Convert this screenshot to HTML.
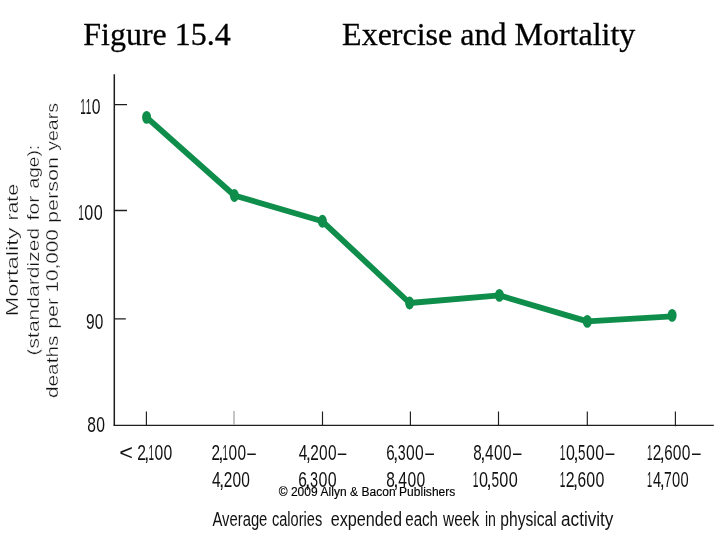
<!DOCTYPE html>
<html lang="en"><head><meta charset="utf-8"><title>Figure 15.4 Exercise and Mortality</title>
<style>
html,body{margin:0;padding:0;background:#fff;}
body{width:720px;height:540px;overflow:hidden;position:relative;}
svg{position:absolute;left:0;top:0;display:block;}
text{white-space:pre;}
.t{font-family:"Liberation Serif",serif;font-size:32px;fill:#000;stroke:#000;stroke-width:.3px;}
.a{font-family:"Liberation Sans",sans-serif;fill:#111;}
.r{stroke:#fff;stroke-width:.3px;paint-order:fill stroke;vector-effect:non-scaling-stroke;}
.c{font-family:"Liberation Sans",sans-serif;font-size:12px;fill:#000;stroke:#000;stroke-width:.15px;}
</style></head>
<body>
<svg width="720" height="540" viewBox="0 0 720 540">
<rect width="720" height="540" fill="#fff"/>

<text class="t" x="83.20" y="45.2">Figure 15.4</text>
<text class="t" x="342.10" y="45.2">Exercise and Mortality</text>

<!-- axes -->
<g stroke="#1e1e1e" stroke-width="1.5" fill="none">
<path d="M114.3 74.2V425.4"/>
<path d="M113.55 425.4H713.8" stroke-width="1.25"/>
<path d="M114.3 104.7H127M114.3 210.5H127M114.3 318.8H125.8" stroke-width="1.3"/>
<path d="M146.4 411.6V425.9M322.5 411.6V425.9M410.4 411.6V425.9M498.5 411.6V425.9M587.3 411.6V425.9M675.4 411.6V426.3" stroke-width="1.15"/>
</g>
<path d="M234 411V425" stroke="#adadad" stroke-width="1.4"/>

<!-- data -->
<polyline points="146.6,117.4 234.4,195.5 322.4,221.3 409.6,303.0 499.4,295.4 587.3,321.4 672.1,316.3" fill="none" stroke="#0f8d4b" stroke-width="5.8" stroke-linejoin="round" stroke-linecap="butt"/>
<g fill="#0f8d4b"><ellipse cx="146.6" cy="117.4" rx="4.5" ry="6.45"/><ellipse cx="234.4" cy="195.5" rx="4.5" ry="6.45"/><ellipse cx="322.4" cy="221.3" rx="4.5" ry="6.45"/><ellipse cx="409.6" cy="303.0" rx="4.5" ry="6.45"/><ellipse cx="499.4" cy="295.4" rx="4.5" ry="6.45"/><ellipse cx="587.3" cy="321.4" rx="4.5" ry="6.45"/><ellipse cx="672.1" cy="315.4" rx="4.5" ry="6.45"/></g>

<!-- chart labels -->
<text class="a" font-size="22.7" y="114.00"><tspan x="80.15" textLength="5.49" lengthAdjust="spacingAndGlyphs">1</tspan><tspan x="85.69" textLength="5.49" lengthAdjust="spacingAndGlyphs">1</tspan><tspan x="91.67" textLength="8.75" lengthAdjust="spacingAndGlyphs">0</tspan></text>
<text class="a" font-size="22.7" y="220.20"><tspan x="78.13" textLength="5.64" lengthAdjust="spacingAndGlyphs">1</tspan><tspan x="84.27" textLength="9.00" lengthAdjust="spacingAndGlyphs">0</tspan><tspan x="93.64" textLength="9.00" lengthAdjust="spacingAndGlyphs">0</tspan></text>
<text class="a" font-size="22.7" y="328.60"><tspan x="85.97" textLength="8.64" lengthAdjust="spacingAndGlyphs">9</tspan><tspan x="94.83" textLength="8.57" lengthAdjust="spacingAndGlyphs">0</tspan></text>
<text class="a" font-size="22.7" y="431.60"><tspan x="87.23" textLength="8.65" lengthAdjust="spacingAndGlyphs">8</tspan><tspan x="96.18" textLength="8.73" lengthAdjust="spacingAndGlyphs">0</tspan></text>
<text class="a" font-size="22.7" y="459.50"><tspan x="119.15" textLength="13.71" lengthAdjust="spacingAndGlyphs">&lt;</tspan><tspan x="132.86" textLength="4.32" lengthAdjust="spacingAndGlyphs"> </tspan><tspan x="137.18" textLength="8.71" lengthAdjust="spacingAndGlyphs">2</tspan><tspan x="144.07" textLength="5.35" lengthAdjust="spacingAndGlyphs">,</tspan><tspan x="148.42" textLength="5.50" lengthAdjust="spacingAndGlyphs">1</tspan><tspan x="154.41" textLength="8.77" lengthAdjust="spacingAndGlyphs">0</tspan><tspan x="163.54" textLength="8.77" lengthAdjust="spacingAndGlyphs">0</tspan></text>
<text class="a" font-size="22.7" y="459.50"><tspan x="211.53" textLength="8.54" lengthAdjust="spacingAndGlyphs">2</tspan><tspan x="218.29" textLength="5.25" lengthAdjust="spacingAndGlyphs">,</tspan><tspan x="222.56" textLength="5.40" lengthAdjust="spacingAndGlyphs">1</tspan><tspan x="228.44" textLength="8.60" lengthAdjust="spacingAndGlyphs">0</tspan><tspan x="237.39" textLength="8.60" lengthAdjust="spacingAndGlyphs">0</tspan><tspan x="247.34" textLength="8.56" lengthAdjust="spacingAndGlyphs">–</tspan></text>
<text class="a" font-size="22.7" y="486.70"><tspan x="211.94" textLength="8.62" lengthAdjust="spacingAndGlyphs">4</tspan><tspan x="219.09" textLength="5.26" lengthAdjust="spacingAndGlyphs">,</tspan><tspan x="223.64" textLength="8.57" lengthAdjust="spacingAndGlyphs">2</tspan><tspan x="232.39" textLength="8.63" lengthAdjust="spacingAndGlyphs">0</tspan><tspan x="241.37" textLength="8.63" lengthAdjust="spacingAndGlyphs">0</tspan></text>
<text class="a" font-size="22.7" y="459.50"><tspan x="298.65" textLength="8.57" lengthAdjust="spacingAndGlyphs">4</tspan><tspan x="305.76" textLength="5.24" lengthAdjust="spacingAndGlyphs">,</tspan><tspan x="310.28" textLength="8.53" lengthAdjust="spacingAndGlyphs">2</tspan><tspan x="318.99" textLength="8.59" lengthAdjust="spacingAndGlyphs">0</tspan><tspan x="327.93" textLength="8.59" lengthAdjust="spacingAndGlyphs">0</tspan><tspan x="337.85" textLength="8.55" lengthAdjust="spacingAndGlyphs">–</tspan></text>
<text class="a" font-size="22.7" y="486.70"><tspan x="298.21" textLength="8.63" lengthAdjust="spacingAndGlyphs">6</tspan><tspan x="305.10" textLength="5.43" lengthAdjust="spacingAndGlyphs">,</tspan><tspan x="310.04" textLength="8.04" lengthAdjust="spacingAndGlyphs">3</tspan><tspan x="318.44" textLength="8.91" lengthAdjust="spacingAndGlyphs">0</tspan><tspan x="327.71" textLength="8.91" lengthAdjust="spacingAndGlyphs">0</tspan></text>
<text class="a" font-size="22.7" y="459.50"><tspan x="386.22" textLength="8.45" lengthAdjust="spacingAndGlyphs">6</tspan><tspan x="392.98" textLength="5.32" lengthAdjust="spacingAndGlyphs">,</tspan><tspan x="397.82" textLength="7.88" lengthAdjust="spacingAndGlyphs">3</tspan><tspan x="406.04" textLength="8.73" lengthAdjust="spacingAndGlyphs">0</tspan><tspan x="415.12" textLength="8.73" lengthAdjust="spacingAndGlyphs">0</tspan><tspan x="425.21" textLength="8.69" lengthAdjust="spacingAndGlyphs">–</tspan></text>
<text class="a" font-size="22.7" y="486.70"><tspan x="386.33" textLength="8.64" lengthAdjust="spacingAndGlyphs">8</tspan><tspan x="393.27" textLength="5.32" lengthAdjust="spacingAndGlyphs">,</tspan><tspan x="398.29" textLength="8.71" lengthAdjust="spacingAndGlyphs">4</tspan><tspan x="407.51" textLength="8.72" lengthAdjust="spacingAndGlyphs">0</tspan><tspan x="416.59" textLength="8.72" lengthAdjust="spacingAndGlyphs">0</tspan></text>
<text class="a" font-size="22.7" y="459.50"><tspan x="473.35" textLength="8.47" lengthAdjust="spacingAndGlyphs">8</tspan><tspan x="480.15" textLength="5.21" lengthAdjust="spacingAndGlyphs">,</tspan><tspan x="485.06" textLength="8.54" lengthAdjust="spacingAndGlyphs">4</tspan><tspan x="494.10" textLength="8.55" lengthAdjust="spacingAndGlyphs">0</tspan><tspan x="503.00" textLength="8.55" lengthAdjust="spacingAndGlyphs">0</tspan><tspan x="512.89" textLength="8.51" lengthAdjust="spacingAndGlyphs">–</tspan></text>
<text class="a" font-size="22.7" y="486.70"><tspan x="472.82" textLength="5.68" lengthAdjust="spacingAndGlyphs">1</tspan><tspan x="479.00" textLength="9.05" lengthAdjust="spacingAndGlyphs">0</tspan><tspan x="486.35" textLength="5.52" lengthAdjust="spacingAndGlyphs">,</tspan><tspan x="491.38" textLength="7.56" lengthAdjust="spacingAndGlyphs">5</tspan><tspan x="499.37" textLength="9.05" lengthAdjust="spacingAndGlyphs">0</tspan><tspan x="508.79" textLength="9.05" lengthAdjust="spacingAndGlyphs">0</tspan></text>
<text class="a" font-size="22.7" y="459.50"><tspan x="559.84" textLength="5.59" lengthAdjust="spacingAndGlyphs">1</tspan><tspan x="565.92" textLength="8.91" lengthAdjust="spacingAndGlyphs">0</tspan><tspan x="573.15" textLength="5.43" lengthAdjust="spacingAndGlyphs">,</tspan><tspan x="578.10" textLength="7.45" lengthAdjust="spacingAndGlyphs">5</tspan><tspan x="585.97" textLength="8.91" lengthAdjust="spacingAndGlyphs">0</tspan><tspan x="595.24" textLength="8.91" lengthAdjust="spacingAndGlyphs">0</tspan><tspan x="605.53" textLength="8.87" lengthAdjust="spacingAndGlyphs">–</tspan></text>
<text class="a" font-size="22.7" y="486.70"><tspan x="559.84" textLength="5.59" lengthAdjust="spacingAndGlyphs">1</tspan><tspan x="565.75" textLength="8.84" lengthAdjust="spacingAndGlyphs">2</tspan><tspan x="572.74" textLength="5.43" lengthAdjust="spacingAndGlyphs">,</tspan><tspan x="577.43" textLength="8.62" lengthAdjust="spacingAndGlyphs">6</tspan><tspan x="586.36" textLength="8.90" lengthAdjust="spacingAndGlyphs">0</tspan><tspan x="595.62" textLength="8.90" lengthAdjust="spacingAndGlyphs">0</tspan></text>
<text class="a" font-size="22.7" y="459.50"><tspan x="647.06" textLength="5.43" lengthAdjust="spacingAndGlyphs">1</tspan><tspan x="652.81" textLength="8.60" lengthAdjust="spacingAndGlyphs">2</tspan><tspan x="659.61" textLength="5.28" lengthAdjust="spacingAndGlyphs">,</tspan><tspan x="664.17" textLength="8.39" lengthAdjust="spacingAndGlyphs">6</tspan><tspan x="672.86" textLength="8.66" lengthAdjust="spacingAndGlyphs">0</tspan><tspan x="681.87" textLength="8.66" lengthAdjust="spacingAndGlyphs">0</tspan><tspan x="691.88" textLength="8.62" lengthAdjust="spacingAndGlyphs">–</tspan></text>
<text class="a" font-size="22.7" y="486.70"><tspan x="647.10" textLength="5.13" lengthAdjust="spacingAndGlyphs">1</tspan><tspan x="652.92" textLength="8.16" lengthAdjust="spacingAndGlyphs">4</tspan><tspan x="659.68" textLength="4.98" lengthAdjust="spacingAndGlyphs">,</tspan><tspan x="664.01" textLength="7.68" lengthAdjust="spacingAndGlyphs">7</tspan><tspan x="671.90" textLength="8.17" lengthAdjust="spacingAndGlyphs">0</tspan><tspan x="680.40" textLength="8.17" lengthAdjust="spacingAndGlyphs">0</tspan></text>
<text class="a" font-size="20" y="525.50"><tspan x="212.50" textLength="54.86" lengthAdjust="spacingAndGlyphs">Average</tspan><tspan x="267.36" textLength="4.59" lengthAdjust="spacingAndGlyphs"> </tspan><tspan x="271.95" textLength="50.24" lengthAdjust="spacingAndGlyphs">calories</tspan><tspan x="322.19" textLength="8.50" lengthAdjust="spacingAndGlyphs"> </tspan><tspan x="330.69" textLength="71.22" lengthAdjust="spacingAndGlyphs">expended</tspan><tspan x="401.91" textLength="3.32" lengthAdjust="spacingAndGlyphs"> </tspan><tspan x="405.23" textLength="32.81" lengthAdjust="spacingAndGlyphs">each</tspan><tspan x="438.04" textLength="4.96" lengthAdjust="spacingAndGlyphs"> </tspan><tspan x="443.00" textLength="36.16" lengthAdjust="spacingAndGlyphs">week</tspan><tspan x="479.16" textLength="5.75" lengthAdjust="spacingAndGlyphs"> </tspan><tspan x="484.92" textLength="11.02" lengthAdjust="spacingAndGlyphs">in</tspan><tspan x="495.94" textLength="4.38" lengthAdjust="spacingAndGlyphs"> </tspan><tspan x="500.32" textLength="56.47" lengthAdjust="spacingAndGlyphs">physical</tspan><tspan x="556.79" textLength="4.27" lengthAdjust="spacingAndGlyphs"> </tspan><tspan x="561.06" textLength="52.35" lengthAdjust="spacingAndGlyphs">activity</tspan></text>
<text class="a r" font-size="15.7" transform="translate(18.40 0) rotate(-90)" y="0"><tspan x="-316.48" textLength="89.02" lengthAdjust="spacingAndGlyphs">Mortality</tspan><tspan x="-227.45" textLength="6.90" lengthAdjust="spacingAndGlyphs"> </tspan><tspan x="-220.55" textLength="36.63" lengthAdjust="spacingAndGlyphs">rate</tspan></text>
<text class="a r" font-size="15.7" transform="translate(38.80 0) rotate(-90)" y="0"><tspan x="-355.54" textLength="127.77" lengthAdjust="spacingAndGlyphs">(standardized</tspan><tspan x="-227.77" textLength="7.44" lengthAdjust="spacingAndGlyphs"> </tspan><tspan x="-220.33" textLength="24.50" lengthAdjust="spacingAndGlyphs">for</tspan><tspan x="-195.83" textLength="7.42" lengthAdjust="spacingAndGlyphs"> </tspan><tspan x="-188.41" textLength="43.56" lengthAdjust="spacingAndGlyphs">age):</tspan></text>
<text class="a r" font-size="15.7" transform="translate(58.00 0) rotate(-90)" y="0"><tspan x="-398.10" textLength="62.66" lengthAdjust="spacingAndGlyphs">deaths</tspan><tspan x="-335.44" textLength="6.58" lengthAdjust="spacingAndGlyphs"> </tspan><tspan x="-328.86" textLength="30.81" lengthAdjust="spacingAndGlyphs">per</tspan><tspan x="-298.05" textLength="5.60" lengthAdjust="spacingAndGlyphs"> </tspan><tspan x="-292.44" textLength="63.08" lengthAdjust="spacingAndGlyphs">10,000</tspan><tspan x="-229.36" textLength="6.28" lengthAdjust="spacingAndGlyphs"> </tspan><tspan x="-223.08" textLength="66.11" lengthAdjust="spacingAndGlyphs">person</tspan><tspan x="-156.96" textLength="6.16" lengthAdjust="spacingAndGlyphs"> </tspan><tspan x="-150.80" textLength="47.83" lengthAdjust="spacingAndGlyphs">years</tspan></text>
<text class="c" x="278.65" y="495.6" textLength="176.70" lengthAdjust="spacing">© 2009 Allyn &amp; Bacon Publishers</text>
</svg>
</body></html>
